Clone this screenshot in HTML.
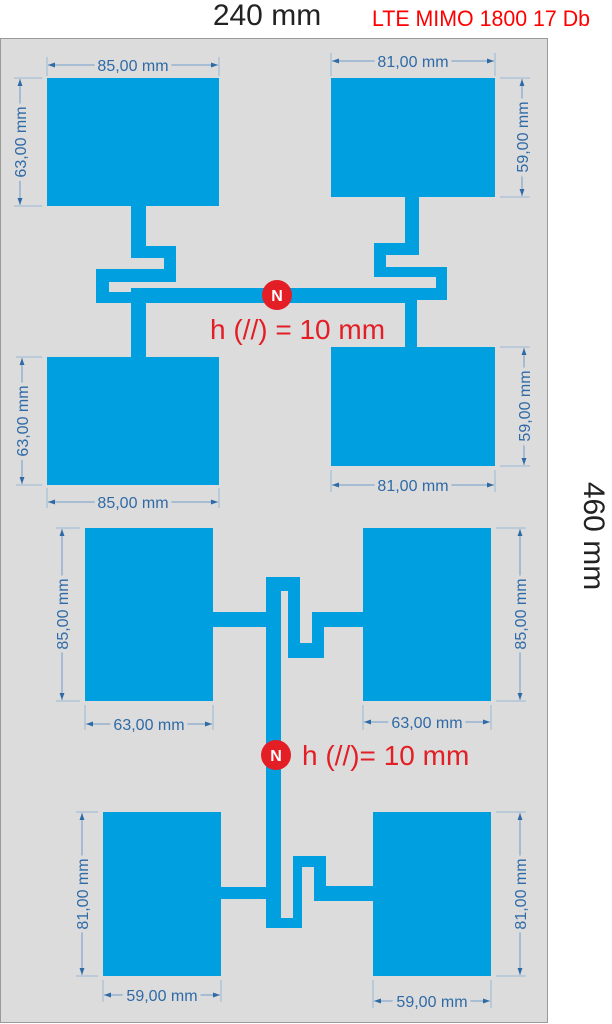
<!DOCTYPE html>
<html><head><meta charset="utf-8"><style>
html,body{margin:0;padding:0;background:#fff;}
svg{display:block;}
.d{font-family:"Liberation Sans",sans-serif;font-size:16px;fill:#2f6aa6;stroke:#dcdcdc;stroke-width:8px;paint-order:stroke;}
.dl{stroke:#6f9cc8;stroke-width:1;fill:none;}
.ex{stroke:#9ab7d3;stroke-width:1;fill:none;}
</style></head><body>
<svg width="612" height="1024" viewBox="0 0 612 1024" xmlns="http://www.w3.org/2000/svg">
<defs>
<marker id="a" viewBox="0 0 10 10" refX="10" refY="5" markerWidth="7" markerHeight="7" orient="auto-start-reverse" markerUnits="userSpaceOnUse"><path d="M0,1.5 L10,5 L0,8.5z" fill="#2f6aa6"/></marker>
</defs>
<rect x="0" y="0" width="612" height="1024" fill="#fff"/>
<rect x="0.5" y="38.5" width="547" height="984" fill="#dcdcdc" stroke="#9a9a9a" stroke-width="1"/>

<text x="267" y="25" text-anchor="middle" font-family="Liberation Sans,sans-serif" font-size="30" fill="#222">240 mm</text>
<text x="372" y="26" font-family="Liberation Sans Narrow,Liberation Sans,sans-serif" font-size="22" fill="#ff0000" textLength="218" lengthAdjust="spacingAndGlyphs">LTE MIMO 1800 17 Db</text>
<text transform="translate(584,536) rotate(90)" text-anchor="middle" font-family="Liberation Sans,sans-serif" font-size="30" fill="#222">460 mm</text>

<g fill="#009fe0">
<rect x="47" y="78" width="172" height="128"/>
<rect x="331" y="78" width="164" height="119"/>
<rect x="47" y="357" width="172" height="128"/>
<rect x="331" y="347" width="164" height="119"/>
<rect x="85" y="528" width="128" height="173"/>
<rect x="363" y="528" width="128" height="173"/>
<rect x="103" y="812" width="118" height="164"/>
<rect x="373" y="812" width="118" height="164"/>

<rect x="131" y="205" width="15" height="50"/>
<rect x="131" y="246" width="45" height="12"/>
<rect x="164" y="246" width="12" height="36"/>
<rect x="96" y="269" width="80" height="13"/>
<rect x="96" y="269" width="13" height="34"/>
<rect x="96" y="292" width="50" height="11"/>
<rect x="145" y="288" width="265" height="15"/>
<rect x="131" y="288" width="15" height="70"/>
<rect x="405" y="196" width="14" height="59"/>
<rect x="374" y="243" width="45" height="12"/>
<rect x="374" y="243" width="12" height="34"/>
<rect x="374" y="267" width="73" height="10"/>
<rect x="436" y="267" width="11" height="33"/>
<rect x="405" y="288" width="42" height="12"/>
<rect x="405" y="288" width="12" height="60"/>

<rect x="266" y="577" width="15" height="351"/>
<rect x="266" y="577" width="34" height="14"/>
<rect x="288" y="577" width="12" height="81"/>
<rect x="288" y="643" width="36" height="15"/>
<rect x="312" y="612" width="12" height="46"/>
<rect x="312" y="612" width="52" height="15"/>
<rect x="212" y="612" width="56" height="15"/>

<rect x="269" y="918" width="33" height="10"/>
<rect x="293" y="856" width="9" height="72"/>
<rect x="293" y="856" width="33" height="11"/>
<rect x="314" y="856" width="12" height="45"/>
<rect x="314" y="886" width="60" height="15"/>
<rect x="220" y="887" width="50" height="12"/>
</g>

<circle cx="277" cy="295" r="15" fill="#e31e24"/>
<text x="277" y="301" text-anchor="middle" font-family="Liberation Sans,sans-serif" font-weight="bold" font-size="16" fill="#fff">N</text>
<text x="210" y="339" font-family="Liberation Sans,sans-serif" font-size="28" fill="#e31e24">h (//) = 10 mm</text>
<circle cx="276" cy="755" r="15" fill="#e31e24"/>
<text x="276" y="761" text-anchor="middle" font-family="Liberation Sans,sans-serif" font-weight="bold" font-size="16" fill="#fff">N</text>
<text x="302" y="765" font-family="Liberation Sans,sans-serif" font-size="28" fill="#e31e24">h (//)= 10 mm</text>

<g>
<path class="ex" d="M47,57V76 M219,57V76"/><path class="dl" d="M48,65H218" marker-start="url(#a)" marker-end="url(#a)"/><text class="d" x="133" y="71" text-anchor="middle">85,00 mm</text>
<path class="ex" d="M331,53V76 M495,53V76"/><path class="dl" d="M332,61H494" marker-start="url(#a)" marker-end="url(#a)"/><text class="d" x="413" y="67" text-anchor="middle">81,00 mm</text>
<path class="ex" d="M47,488V508 M219,488V508"/><path class="dl" d="M48,502H218" marker-start="url(#a)" marker-end="url(#a)"/><text class="d" x="133" y="508" text-anchor="middle">85,00 mm</text>
<path class="ex" d="M331,470V492 M495,470V492"/><path class="dl" d="M332,485H494" marker-start="url(#a)" marker-end="url(#a)"/><text class="d" x="413" y="491" text-anchor="middle">81,00 mm</text>
<path class="ex" d="M85,705V730 M213,705V730"/><path class="dl" d="M86,724H212" marker-start="url(#a)" marker-end="url(#a)"/><text class="d" x="149" y="730" text-anchor="middle">63,00 mm</text>
<path class="ex" d="M363,705V730 M491,705V730"/><path class="dl" d="M364,722H490" marker-start="url(#a)" marker-end="url(#a)"/><text class="d" x="427" y="728" text-anchor="middle">63,00 mm</text>
<path class="ex" d="M103,980V1002 M221,980V1002"/><path class="dl" d="M104,995H220" marker-start="url(#a)" marker-end="url(#a)"/><text class="d" x="162" y="1001" text-anchor="middle">59,00 mm</text>
<path class="ex" d="M373,980V1008 M491,980V1008"/><path class="dl" d="M374,1001H490" marker-start="url(#a)" marker-end="url(#a)"/><text class="d" x="432" y="1007" text-anchor="middle">59,00 mm</text>
</g>
<g>
<path class="ex" d="M14,78H42 M14,206H42"/><path class="dl" d="M20,79V205" marker-start="url(#a)" marker-end="url(#a)"/><text class="d" transform="translate(26,142) rotate(-90)" text-anchor="middle">63,00 mm</text>
<path class="ex" d="M500,78H530 M500,197H530"/><path class="dl" d="M522,79V196" marker-start="url(#a)" marker-end="url(#a)"/><text class="d" transform="translate(528,137) rotate(-90)" text-anchor="middle">59,00 mm</text>
<path class="ex" d="M16,357H42 M16,485H42"/><path class="dl" d="M22,358V484" marker-start="url(#a)" marker-end="url(#a)"/><text class="d" transform="translate(28,421) rotate(-90)" text-anchor="middle">63,00 mm</text>
<path class="ex" d="M500,347H530 M500,466H530"/><path class="dl" d="M524,348V465" marker-start="url(#a)" marker-end="url(#a)"/><text class="d" transform="translate(530,406) rotate(-90)" text-anchor="middle">59,00 mm</text>
<path class="ex" d="M56,528H80 M56,701H80"/><path class="dl" d="M62,529V700" marker-start="url(#a)" marker-end="url(#a)"/><text class="d" transform="translate(68,614) rotate(-90)" text-anchor="middle">85,00 mm</text>
<path class="ex" d="M496,528H526 M496,701H526"/><path class="dl" d="M520,529V700" marker-start="url(#a)" marker-end="url(#a)"/><text class="d" transform="translate(526,614) rotate(-90)" text-anchor="middle">85,00 mm</text>
<path class="ex" d="M76,812H98 M76,976H98"/><path class="dl" d="M82,813V975" marker-start="url(#a)" marker-end="url(#a)"/><text class="d" transform="translate(88,894) rotate(-90)" text-anchor="middle">81,00 mm</text>
<path class="ex" d="M496,812H526 M496,976H526"/><path class="dl" d="M520,813V975" marker-start="url(#a)" marker-end="url(#a)"/><text class="d" transform="translate(526,894) rotate(-90)" text-anchor="middle">81,00 mm</text>
</g>
</svg>
</body></html>
